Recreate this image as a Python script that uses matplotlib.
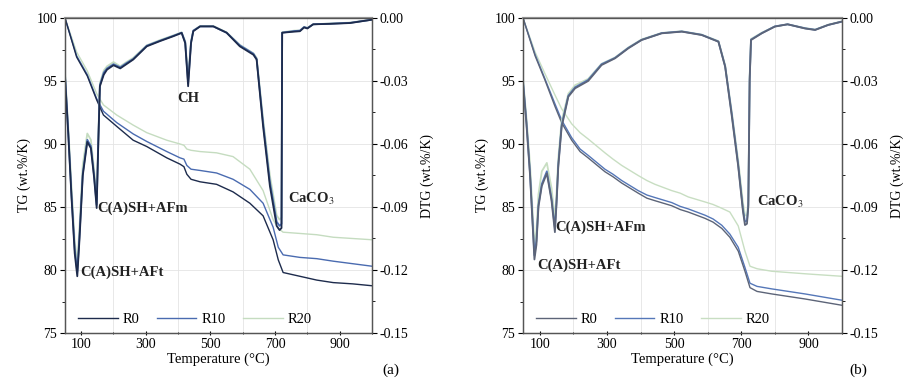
import matplotlib
matplotlib.use("Agg")
import matplotlib.pyplot as plt
from matplotlib.ticker import MultipleLocator

plt.rcParams["font.family"] = ["Liberation Serif", "DejaVu Serif"]
plt.rcParams["mathtext.fontset"] = "stix"
plt.rcParams["font.size"] = 10

# ---------------------------------------------------------------------------
# Panel (a) data
# ---------------------------------------------------------------------------
ta_tg = [50, 86, 119, 148, 169, 210, 261, 303, 365, 406, 418, 427, 440, 468,
         519, 570, 622, 663, 694, 710, 725, 777, 829, 880, 940, 1000]
a_tg_r0 = [100, 96.9, 95.4, 93.5, 92.3, 91.4, 90.3, 89.8, 88.9, 88.4, 88.2, 87.6, 87.2, 87.0,
           86.8, 86.2, 85.3, 84.3, 82.4, 80.8, 79.8, 79.5, 79.2, 79.0, 78.9, 78.75]
a_tg_r10 = [100, 97.0, 95.5, 93.6, 92.6, 91.7, 90.8, 90.2, 89.4, 88.9, 88.8, 88.3, 88.0, 87.9,
            87.7, 87.2, 86.4, 85.3, 83.4, 81.8, 81.2, 81.0, 80.9, 80.7, 80.5, 80.3]
a_tg_r20 = [100, 97.3, 95.8, 94.0, 93.1, 92.3, 91.5, 90.9, 90.3, 90.0, 89.9, 89.6, 89.5, 89.4,
            89.3, 89.0, 88.0, 86.3, 84.0, 83.3, 83.0, 82.9, 82.8, 82.6, 82.5, 82.4]

ta_dtg = [50, 60, 70, 80, 88, 95, 105, 119, 130, 140, 148, 153, 158, 170, 180, 200, 221, 240,
          261, 303, 344, 385, 411, 422, 431, 440, 447, 468, 509, 550, 591, 633, 643, 663, 684,
          705, 714, 720, 722, 760, 777, 790, 800, 818, 870, 932, 1000]
a_dtg_r0 = [-0.028, -0.055, -0.085, -0.112, -0.123, -0.105, -0.075, -0.059, -0.062, -0.076,
            -0.0905, -0.060, -0.0325, -0.027, -0.0246, -0.0225, -0.024, -0.022, -0.0198, -0.0135,
            -0.011, -0.0087, -0.0071, -0.012, -0.0325, -0.012, -0.0063, -0.004, -0.004, -0.007,
            -0.0135, -0.0175, -0.0198, -0.0516, -0.080, -0.099, -0.101, -0.100, -0.007, -0.0065,
            -0.0063, -0.0045, -0.005, -0.003, -0.0028, -0.0024, -0.0008]
a_dtg_r10 = [-0.027, -0.054, -0.084, -0.110, -0.121, -0.103, -0.074, -0.058, -0.061, -0.075,
             -0.089, -0.059, -0.032, -0.026, -0.024, -0.022, -0.0235, -0.0215, -0.0195, -0.0132,
             -0.0108, -0.0085, -0.007, -0.0115, -0.031, -0.0115, -0.006, -0.004, -0.004, -0.007,
             -0.013, -0.017, -0.0195, -0.050, -0.078, -0.097, -0.099, -0.098, -0.007, -0.0062,
             -0.006, -0.0043, -0.0048, -0.003, -0.0027, -0.0023, -0.0008]
a_dtg_r20 = [-0.026, -0.052, -0.080, -0.106, -0.117, -0.099, -0.070, -0.055, -0.058, -0.072,
             -0.086, -0.057, -0.031, -0.025, -0.023, -0.021, -0.023, -0.021, -0.019, -0.013,
             -0.0105, -0.0083, -0.0068, -0.011, -0.029, -0.011, -0.006, -0.0038, -0.0038, -0.0068,
             -0.0128, -0.0168, -0.019, -0.048, -0.075, -0.094, -0.096, -0.095, -0.0068, -0.006,
             -0.006, -0.0042, -0.0047, -0.003, -0.0026, -0.0022, -0.0008]

# ---------------------------------------------------------------------------
# Panel (b) data
# ---------------------------------------------------------------------------
tb_tg = [50, 86, 115, 145, 165, 195, 220, 244, 294, 318, 344, 393, 419, 443, 493, 518, 542,
         592, 616, 642, 666, 691, 711, 726, 747, 791, 890, 1000]
b_tg_r0 = [100, 97.0, 95.1, 93.0, 91.7, 90.3, 89.4, 88.9, 87.8, 87.4, 86.9, 86.1, 85.7, 85.5,
           85.1, 84.8, 84.6, 84.1, 83.8, 83.3, 82.6, 81.5, 79.9, 78.6, 78.3, 78.1, 77.7, 77.2]
b_tg_r10 = [100, 97.1, 95.2, 93.2, 91.9, 90.5, 89.6, 89.1, 88.0, 87.6, 87.1, 86.3, 85.95, 85.75,
            85.35, 85.05, 84.85, 84.35, 84.05, 83.55, 82.85, 81.8, 80.2, 78.95, 78.7, 78.5, 78.1, 77.6]
b_tg_r20 = [100, 97.3, 95.6, 93.9, 92.8, 91.6, 90.9, 90.4, 89.3, 88.8, 88.3, 87.5, 87.1, 86.8,
            86.3, 86.1, 85.8, 85.4, 85.2, 84.9, 84.6, 83.5, 81.5, 80.3, 80.1, 79.9, 79.7, 79.5]

tb_dtg = [50, 60, 71, 84, 90, 96, 106, 121, 135, 145, 150, 155, 165, 185, 205, 244, 284, 324,
          364, 403, 463, 523, 582, 632, 652, 672, 691, 705, 711, 717, 721, 725, 729, 761, 800,
          838, 890, 920, 959, 1000]
b_dtg_r0 = [-0.031, -0.050, -0.075, -0.115, -0.108, -0.090, -0.080, -0.074, -0.087, -0.102,
            -0.088, -0.071, -0.052, -0.0375, -0.0335, -0.030, -0.0224, -0.0192, -0.0144, -0.0105,
            -0.0073, -0.0065, -0.0081, -0.0113, -0.0232, -0.047, -0.0708, -0.092, -0.0986, -0.098,
            -0.090, -0.030, -0.0105, -0.0073, -0.0041, -0.003, -0.005, -0.0057, -0.0033, -0.0017]
b_dtg_r10 = [-0.030, -0.049, -0.074, -0.113, -0.106, -0.089, -0.079, -0.073, -0.086, -0.100,
             -0.087, -0.070, -0.051, -0.037, -0.033, -0.0295, -0.022, -0.019, -0.0142, -0.0104,
             -0.0072, -0.0064, -0.008, -0.0112, -0.023, -0.046, -0.070, -0.091, -0.097, -0.0965,
             -0.089, -0.029, -0.0103, -0.0072, -0.004, -0.003, -0.0049, -0.0056, -0.0033, -0.0017]
b_dtg_r20 = [-0.029, -0.047, -0.070, -0.108, -0.101, -0.084, -0.073, -0.069, -0.081, -0.096,
             -0.083, -0.067, -0.049, -0.036, -0.032, -0.029, -0.0218, -0.0188, -0.014, -0.0102,
             -0.0071, -0.0063, -0.0079, -0.011, -0.0225, -0.045, -0.068, -0.088, -0.094, -0.094,
             -0.087, -0.028, -0.010, -0.007, -0.004, -0.003, -0.0048, -0.0055, -0.0032, -0.0016]

labels = ["R0", "R10", "R20"]
colors_a = ["#1d2b4c", "#4a6bb0", "#c5dcc0"]
colors_b = ["#5c6478", "#5577b8", "#c8dec2"]

fig = plt.figure(figsize=(9.1, 3.82), dpi=100)


def draw_panel(rect, t_tg, tgs, t_dtg, dtgs, colors, notes, tag, tag_x):
    ax = fig.add_axes(rect)
    ax2 = ax.twinx()

    # faint grid
    for x in [200, 400, 600, 800]:
        ax.axvline(x, color="#e4e4e4", lw=0.6, zorder=0)
    for y in [80, 85, 90, 95]:
        ax.axhline(y, color="#e4e4e4", lw=0.6, zorder=0)

    handles = []
    for vals, c, lab in zip(tgs[::-1], colors[::-1], labels[::-1]):
        h, = ax.plot(t_tg, vals, color=c, lw=1.0, label=lab)
        handles.append(h)
    for vals, c in zip(dtgs[::-1], colors[::-1]):
        ax2.plot(t_dtg, vals, color=c, lw=1.3)

    ax.set_xlim(50, 1000)
    ax.set_ylim(75, 100)
    ax2.set_ylim(-0.15, 0.0)
    ax.set_xticks([100, 300, 500, 700, 900])
    ax.xaxis.set_minor_locator(MultipleLocator(100))
    ax.yaxis.set_major_locator(MultipleLocator(5))
    ax.yaxis.set_minor_locator(MultipleLocator(2.5))
    ax2.set_yticks([0.0, -0.03, -0.06, -0.09, -0.12, -0.15])
    ax2.set_yticklabels(["0.00", "-0.03", "-0.06", "-0.09", "-0.12", "-0.15"])
    ax2.yaxis.set_minor_locator(MultipleLocator(0.015))

    for a in (ax, ax2):
        a.tick_params(which="major", length=3.5, width=0.8, direction="out", labelsize=10, pad=2)
        a.tick_params(which="minor", length=2, width=0.6, direction="out")
        for s in a.spines.values():
            s.set_color("#555555")
            s.set_linewidth(0.9)
    ax.tick_params(axis="x", which="both", direction="inout")
    ax.spines["top"].set_color("#999999")
    ax.spines["top"].set_linewidth(1.6)

    ax.set_xlabel("Temperature (°C)", fontsize=10.5, labelpad=1)
    ax.set_ylabel("TG (wt.%/K)", fontsize=10, labelpad=4)
    ax2.set_ylabel("DTG (wt.%/K)", fontsize=10, labelpad=9)

    for txt, x, y, ha in notes:
        ax.text(x, y, txt, ha=ha, va="center", fontsize=10.5, fontweight="bold", color="#222222")

    ax.legend(handles[::-1], labels, loc="lower left", bbox_to_anchor=(0.0, -0.02),
              ncol=3, frameon=False, handlelength=2.7, columnspacing=1.2,
              handletextpad=0.35, fontsize=10.5)
    fig.text(tag_x, 0.03, tag, fontsize=11, ha="center", va="center")


notes_a = [("CH", 430, 93.6, "center"),
           ("C(A)SH+AFm", 149, 84.9, "left"),
           ("C(A)SH+AFt", 96, 79.8, "left"),
           ("CaCO$_3$", 740, 85.6, "left")]
notes_b = [("C(A)SH+AFm", 145, 83.4, "left"),
           ("C(A)SH+AFt", 92, 80.4, "left"),
           ("CaCO$_3$", 747, 85.4, "left")]

draw_panel([65 / 910, 49 / 382, 307 / 910, 315 / 382], ta_tg,
           [a_tg_r0, a_tg_r10, a_tg_r20], ta_dtg, [a_dtg_r0, a_dtg_r10, a_dtg_r20],
           colors_a, notes_a, "(a)", 391 / 910)
draw_panel([523 / 910, 49 / 382, 319 / 910, 315 / 382], tb_tg,
           [b_tg_r0, b_tg_r10, b_tg_r20], tb_dtg, [b_dtg_r0, b_dtg_r10, b_dtg_r20],
           colors_b, notes_b, "(b)", 858 / 910)

fig.savefig("out.png", dpi=100)
